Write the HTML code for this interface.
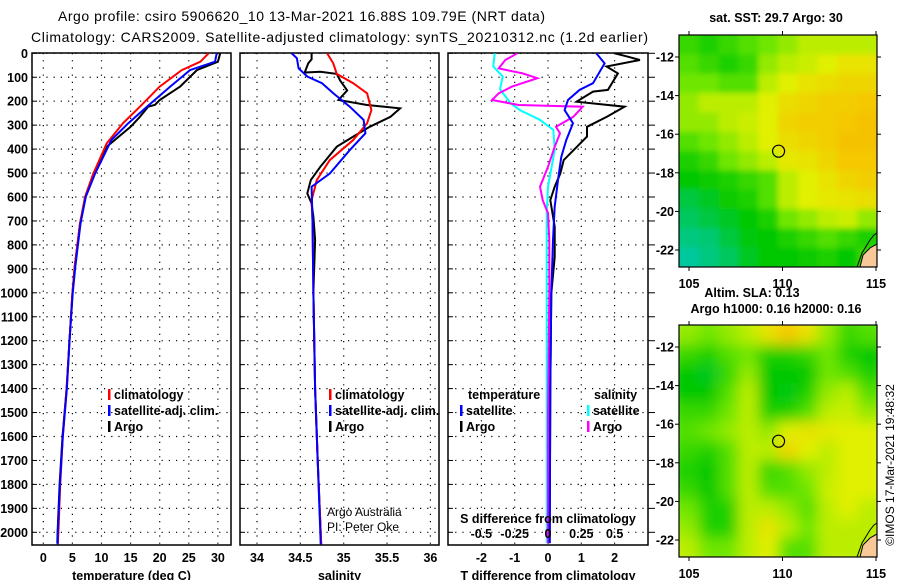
<!DOCTYPE html>
<html><head><meta charset="utf-8"><style>
html,body{margin:0;padding:0;background:#fff;}
svg{display:block;font-family:"Liberation Sans",Arial,sans-serif;}
.b{font-weight:bold;font-size:12.5px;}
.n{font-size:12px;}
</style></head><body>
<svg id="c" width="900" height="580" viewBox="0 0 900 580" xmlns="http://www.w3.org/2000/svg">
<defs>
<clipPath id="cp1"><rect x="32" y="53" width="199" height="492"/></clipPath>
<clipPath id="cp2"><rect x="240" y="53" width="199" height="492"/></clipPath>
<clipPath id="cp3"><rect x="448" y="53" width="200" height="492"/></clipPath>
<clipPath id="cm1"><rect x="679" y="35" width="198" height="232"/></clipPath>
<clipPath id="cm2"><rect x="679" y="325" width="198" height="232"/></clipPath>
<filter id="bl1" x="0" y="0" width="1" height="1"><feGaussianBlur stdDeviation="3"/></filter>
<filter id="bl2" x="0" y="0" width="1" height="1"><feGaussianBlur stdDeviation="7"/></filter>
</defs>
<text x="58" y="21" font-size="14" textLength="487">Argo profile: csiro 5906620_10 13-Mar-2021 16.88S 109.79E (NRT data)</text>
<text x="31" y="42" font-size="14" textLength="617">Climatology: CARS2009. Satellite-adjusted climatology: synTS_20210312.nc (1.2d earlier)</text>
<g id="g"></g>
</svg>
<script>
// ---------- data ----------
const depthTicks=[0,100,200,300,400,500,600,700,800,900,1000,1100,1200,1300,1400,1500,1600,1700,1800,1900,2000];
const tempTicks=[0,5,10,15,20,25,30];
const salTicks=[34,34.5,35,35.5,36];
const salTickLabels=["34","34.5","35","35.5","36"];
const dTTicks=[-2,-1,0,1,2];
const dSTicks=[-0.5,-0.25,0,0.25,0.5];
const dSTickLabels=["-0.5","-0.25","0","0.25","0.5"];

const argoTDepth=[0,35,70,139,195,215,223,265,307,390,502,599,711,892,1003,1200,1400,1600,1800,2000,2045];
const argoTVal=[30.4,30.0,26.4,23.5,20.0,19.2,18.0,16.6,15.0,10.9,8.6,7.2,6.3,5.4,5.0,4.5,4.0,3.3,2.8,2.45,2.4];
const climTDepth=[0,35,70,139,223,292,376,502,599,711,892,1003,1200,1400,1600,1800,2000,2050];
const climTVal=[28.4,27.0,23.8,20.0,16.6,13.7,10.9,8.6,7.2,6.3,5.4,5.0,4.5,4.0,3.35,2.9,2.6,2.5];
const satTDepth=[0,35,70,139,223,292,362,502,599,711,892,1003,1200,1400,1600,1800,2000,2050];
const satTVal=[29.8,29.5,25.2,21.8,17.8,14.6,11.7,8.9,7.3,6.4,5.5,5.05,4.5,4.05,3.35,2.85,2.5,2.45];

const argoSDepth=[0,25,42,80,77,86,114,155,195,216,230,265,307,348,390,474,529,585,627,683,780,1000,1400,1700,2000,2050];
const argoSVal=[34.63,34.63,34.59,34.55,34.73,34.92,34.96,35.04,34.94,35.27,35.65,35.54,35.30,35.11,34.92,34.73,34.62,34.58,34.63,34.65,34.67,34.65,34.67,34.70,34.735,34.74];
const climSDepth=[0,42,86,125,167,237,292,362,446,529,613,700,1000,1400,1700,2000,2050];
const climSVal=[34.81,34.88,34.92,35.11,35.27,35.32,35.27,35.11,34.84,34.69,34.63,34.64,34.65,34.67,34.70,34.735,34.74];
const satSDepth=[0,21,63,97,125,167,223,278,334,404,502,557,700,1000,1400,1700,2000,2050];
const satSVal=[34.40,34.46,34.48,34.58,34.75,34.88,35.07,35.23,35.25,35.07,34.84,34.63,34.64,34.65,34.67,34.70,34.73,34.735];

const argoDTDepth=[0,14,28,55,84,153,160,202,223,265,307,348,390,446,502,557,613,724,850,1003,1400,2045];
const argoDTVal=[2.0,2.4,2.76,1.76,2.1,1.8,1.35,0.86,2.3,1.77,1.17,1.17,0.87,0.47,0.37,0.2,0.07,0.2,0.2,0.1,0.07,0.05];
const satDTDepth=[0,42,125,153,195,237,292,362,432,529,640,780,1003,1400,2045];
const satDTVal=[1.45,1.7,1.35,0.95,0.6,0.5,0.75,0.55,0.4,0.3,0.2,0.15,0.1,0.07,0.05];
const satDSDepth=[0,55,97,150,209,237,278,320,404,557,668,1003,1500,2045];
const satDSVal=[-0.40,-0.41,-0.34,-0.36,-0.28,-0.21,-0.06,0.04,0.05,0.0,-0.01,-0.01,-0.01,-0.01];
const argoDSDepth=[0,28,63,84,104,139,167,195,216,223,265,307,334,390,474,557,613,668,780,1003,1500,2045];
const argoDSVal=[-0.23,-0.32,-0.37,-0.19,-0.08,-0.27,-0.37,-0.42,-0.22,0.26,0.19,0.06,0.09,0.05,0.0,-0.06,-0.04,0.0,0.01,0.01,0.0,0.0];

const mapLonTicks=[105,110,115];
const mapLatTicks=[-12,-14,-16,-18,-20,-22];
const sstGrid=[
[0.40,0.35,0.40,0.45,0.50,0.55,0.60,0.60,0.60,0.60],
[0.45,0.40,0.35,0.40,0.55,0.60,0.62,0.65,0.70,0.70],
[0.50,0.50,0.45,0.45,0.60,0.65,0.70,0.72,0.75,0.75],
[0.55,0.60,0.60,0.60,0.65,0.72,0.75,0.78,0.78,0.80],
[0.55,0.55,0.60,0.62,0.65,0.75,0.78,0.78,0.80,0.82],
[0.45,0.50,0.55,0.60,0.65,0.72,0.75,0.78,0.82,0.82],
[0.35,0.40,0.50,0.55,0.60,0.68,0.70,0.75,0.80,0.80],
[0.30,0.32,0.35,0.40,0.45,0.60,0.65,0.70,0.75,0.78],
[0.20,0.25,0.32,0.35,0.45,0.60,0.65,0.68,0.70,0.72],
[0.15,0.20,0.25,0.30,0.35,0.50,0.55,0.60,0.62,0.55],
[0.10,0.12,0.20,0.28,0.30,0.35,0.40,0.45,0.40,0.35],
[0.05,0.10,0.15,0.25,0.30,0.30,0.32,0.35,0.30,0.40]];
const slaGrid=[
[0.55,0.50,0.55,0.60,0.70,0.80,0.70,0.55,0.40,0.45],
[0.40,0.35,0.45,0.50,0.35,0.35,0.40,0.50,0.35,0.30],
[0.30,0.25,0.40,0.55,0.30,0.30,0.30,0.50,0.45,0.35],
[0.30,0.30,0.45,0.60,0.30,0.28,0.35,0.55,0.60,0.45],
[0.40,0.40,0.50,0.60,0.35,0.35,0.45,0.60,0.62,0.55],
[0.45,0.50,0.55,0.60,0.55,0.65,0.70,0.68,0.65,0.65],
[0.40,0.35,0.45,0.60,0.60,0.75,0.65,0.60,0.65,0.65],
[0.35,0.30,0.45,0.60,0.40,0.45,0.55,0.60,0.65,0.65],
[0.40,0.30,0.45,0.60,0.45,0.45,0.50,0.62,0.65,0.65],
[0.50,0.35,0.35,0.60,0.60,0.55,0.45,0.60,0.65,0.60],
[0.55,0.35,0.35,0.60,0.70,0.60,0.50,0.60,0.60,0.60],
[0.60,0.50,0.50,0.60,0.65,0.45,0.45,0.60,0.60,0.60]];

// ---------- scales ----------
const NS='http://www.w3.org/2000/svg';
const G=document.getElementById('g');
const yD=d=>53.3+d*0.2395;
const xT=t=>43.3+5.82*t;
const xS=s=>257+86.7*(s-34);
const xdT=v=>548+33.3*v;
const xdS=v=>548+133.3*v;
function mk(tag,attrs,parent){const e=document.createElementNS(NS,tag);for(const k in attrs)e.setAttribute(k,attrs[k]);(parent||G).appendChild(e);return e;}
function txt(x,y,s,cls,anchor,parent){const e=mk('text',{x:x,y:y,class:cls,'text-anchor':anchor||'start'},parent);e.textContent=s;return e;}

const panels=[{x0:32,x1:231,clip:'cp1',ticks:tempTicks.map(xT),labels:tempTicks.map(String),title:'temperature (deg C)',name:'temperature'},
{x0:240,x1:439,clip:'cp2',ticks:salTicks.map(xS),labels:salTickLabels,title:'salinity',name:'salinity'},
{x0:448,x1:648,clip:'cp3',ticks:dTTicks.map(xdT),labels:dTTicks.map(String),title:'T difference from climatology',name:'difference'}];
panels.forEach((p,i)=>{
  const pg=mk('g',{});
  
  
  depthTicks.forEach(d=>{
    const l=mk('line',{x1:p.x0,x2:p.x1,y1:yD(d),y2:yD(d),stroke:'#000','stroke-width':1.2,'stroke-dasharray':'1.2 6'},pg);
    
    
    const tk=mk('line',{x1:p.x0,x2:p.x0+5,y1:yD(d),y2:yD(d),stroke:'#000'},pg);
    
    
  });
  p.ticks.forEach((x,j)=>{
    const l=mk('line',{x1:x,x2:x,y1:53,y2:545,stroke:'#000','stroke-width':1.2,'stroke-dasharray':'1.2 6'},pg);
    
    
    const t=txt(x,562,p.labels[j],'b','middle',pg);
    
    
  });
  const r=mk('rect',{x:p.x0,y:53,width:p.x1-p.x0,height:492,fill:'none',stroke:'#000','stroke-width':1.5},pg);
  
  
  const at=txt((p.x0+p.x1)/2,580,p.title,'b','middle',pg);
  
  
});
depthTicks.forEach(d=>{
  const t=txt(28,yD(d)+4.5,String(d),'b','end');
  
  
  const tk=mk('line',{x1:648,x2:655,y1:yD(d),y2:yD(d),stroke:'#000'});
  
  
});
function prof(dep,val,xf,col,clip,name){
  const pts=dep.map((d,i)=>xf(val[i]).toFixed(1)+','+yD(d).toFixed(1)).join(' ');
  const e=mk('polyline',{points:pts,fill:'none',stroke:col,'stroke-width':2,'clip-path':'url(#'+clip+')'});
  
  
}
prof(argoTDepth,argoTVal,xT,'#000','cp1','argo-temperature-line');
prof(climTDepth,climTVal,xT,'#f00','cp1','climatology-temperature-line');
prof(satTDepth,satTVal,xT,'#00f','cp1','satellite-temperature-line');
prof(argoSDepth,argoSVal,xS,'#000','cp2','argo-salinity-line');
prof(climSDepth,climSVal,xS,'#f00','cp2','climatology-salinity-line');
prof(satSDepth,satSVal,xS,'#00f','cp2','satellite-salinity-line');
prof(satDSDepth,satDSVal,xdS,'#0ff','cp3','satellite-salinity-diff-line');
prof(argoDSDepth,argoDSVal,xdS,'#f0f','cp3','argo-salinity-diff-line');
prof(argoDTDepth,argoDTVal,xdT,'#000','cp3','argo-temperature-diff-line');
prof(satDTDepth,satDTVal,xdT,'#00f','cp3','satellite-temperature-diff-line');

// legends
function leg(x,y,col,label,name){
  const g=mk('g',{});
  
  
  mk('rect',{x:x,y:y-10,width:2.5,height:11,fill:col},g);
  if(label)txt(x+6,y,label,'b','start',g);
}
[[108,'#f00','climatology'],[108,'#00f','satellite-adj. clim.'],[108,'#000','Argo']].forEach((l,i)=>leg(l[0],399+i*16,l[1],l[2],'temperature-legend-entry'));
[[329,'#f00','climatology'],[329,'#00f','satellite-adj. clim.'],[329,'#000','Argo']].forEach((l,i)=>leg(l[0],399+i*16,l[1],l[2],'salinity-legend-entry'));
let t=txt(468,399,'temperature','b');
t=txt(594,399,'salinity','b');
leg(460,415,'#00f','satellite','diff-legend-entry');leg(460,431,'#000','Argo','diff-legend-entry');
leg(587,415,'#0ff','satellite','diff-legend-entry');leg(587,431,'#f0f','Argo','diff-legend-entry');
t=txt(327,516,'Argo Australia','n');
t=txt(327,531,'PI: Peter Oke','n');
t=txt(548,523,'S difference from climatology','b','middle');
dSTicks.forEach((v,i)=>{const e=txt(xdS(v),538,dSTickLabels[i],'b','middle');});

// maps
function col(v){
  const stops=[[0,[0,200,190]],[0.3,[0,200,0]],[0.5,[110,230,0]],[0.65,[225,240,0]],[0.8,[245,200,0]],[1,[245,140,0]]];
  for(let i=1;i<stops.length;i++){if(v<=stops[i][0]){const a=stops[i-1],b=stops[i];const f=(v-a[0])/(b[0]-a[0]);return 'rgb('+a[1].map((c,k)=>Math.round(c+(b[1][k]-c)*f)).join(',')+')';}}
  return 'rgb(245,140,0)';
}
function map(top,grid,blur,clip,name,title,titleY,xlabY){
  const g=mk('g',{});
  
  
  const L=679,W=198,H=232;
  const gi=mk('g',{'clip-path':'url(#'+clip+')'},g);
  const inner=mk('g',{filter:'url(#'+blur+')'},gi);
  const rows=grid.length,cols=grid[0].length,cw=W/cols,ch=H/rows;
  mk('rect',{x:L-10,y:top-10,width:W+20,height:H+20,fill:col(0.5)},inner);
  grid.forEach((r,i)=>r.forEach((v,j)=>{
    const c=mk('rect',{x:L+j*cw-(j==0?10:0),y:top+i*ch-(i==0?10:0),width:cw+(j==0||j==cols-1?10:0)+0.5,height:ch+(i==0||i==rows-1?10:0)+0.5,fill:col(v)},inner);
    
    
  }));
  const land=mk('polygon',{points:`860,${top+232} 863,${top+220} 870,${top+213} 877,${top+209} 877,${top+232}`,fill:'#f8c898',stroke:'#000','stroke-width':1},gi);
  
  
  mk('polyline',{points:`857,${top+232} 862,${top+218} 870,${top+205} 874,${top+200} 877,${top+198}`,fill:'none',stroke:'#000'},gi);
  const lonX=lon=>689+18.7*(lon-105);
  const latY=lat=>top+22+19.3*(-12-lat);
  mk('rect',{x:L,y:top,width:W,height:H,fill:'none',stroke:'#000','stroke-width':1.2},g);
  mapLatTicks.forEach(la=>{const e=txt(674,latY(la)+4.5,String(la),'b','end',g);
    mk('line',{x1:L,x2:L-4,y1:latY(la),y2:latY(la),stroke:'#000'},g);mk('line',{x1:L+W,x2:L+W+4,y1:latY(la),y2:latY(la),stroke:'#000'},g);});
  mapLonTicks.forEach(lo=>{const e=txt(lonX(lo),xlabY,String(lo),'b','middle',g);
    mk('line',{x1:lonX(lo),x2:lonX(lo),y1:top,y2:top-4,stroke:'#000'},g);mk('line',{x1:lonX(lo),x2:lonX(lo),y1:top+H,y2:top+H+4,stroke:'#000'},g);});
  const ci=mk('circle',{cx:lonX(109.79),cy:latY(-16.88),r:6,fill:'none',stroke:'#000','stroke-width':1.2},g);
  
  
  title.forEach((s,i)=>{const e=txt(s[1],titleY[i],s[0],'b','middle',g);});
}
map(35,sstGrid,'bl1','cm1','sst-map',[['sat. SST: 29.7 Argo: 30',776]],[22],288);
map(325,slaGrid,'bl2','cm2','sla-map',[['Altim. SLA: 0.13',752],['Argo h1000: 0.16 h2000: 0.16',776]],[297,313],578);
t=txt(0,0,'©IMOS 17-Mar-2021 19:48:32','n','middle');
t.setAttribute('transform','translate(894,465) rotate(-90)');


</script>
</body></html>
